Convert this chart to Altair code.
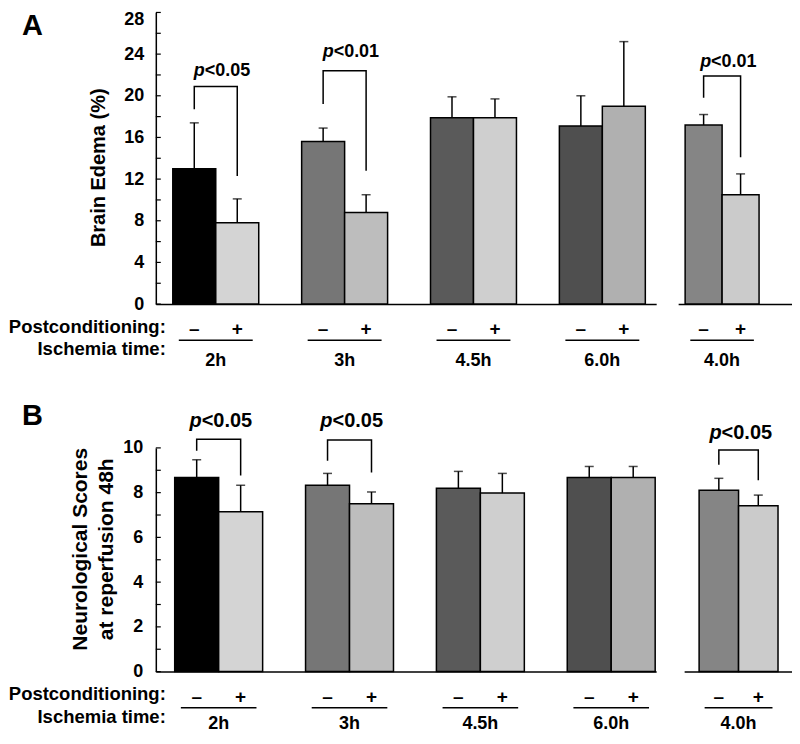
import altair as alt
import pandas as pd

FONT = "Liberation Sans"

# ---------------- data ----------------
groups_main = ["2h", "3h", "4.5h", "6.0h"]
groups_side = ["4.0h"]
groups_all = groups_main + groups_side
conds = ["–", "+"]

# Panel A: brain edema (%)
edema_minus = [13.0, 15.6, 17.9, 17.1, 17.2]
edema_minus_sd = [4.4, 1.3, 2.0, 2.9, 1.0]
edema_plus = [7.8, 8.8, 17.9, 19.0, 10.5]
edema_plus_sd = [2.3, 1.7, 1.8, 6.2, 2.0]

# Panel B: neurological scores
score_minus = [8.68, 8.33, 8.2, 8.68, 8.11]
score_minus_sd = [0.79, 0.53, 0.75, 0.49, 0.53]
score_plus = [7.15, 7.5, 7.98, 8.68, 7.41]
score_plus_sd = [1.18, 0.53, 0.88, 0.49, 0.48]

# significance brackets
edema_sig_groups = ["2h", "3h", "4.0h"]
edema_sig_text = ["<0.05", "<0.01", "<0.01"]
edema_br_top = [20.9, 22.4, 21.9]
edema_br_left = [18.7, 19.2, 19.8]
edema_br_right = [12.3, 12.8, 14.1]
edema_txt_y = [21.9, 23.7, 22.8]

score_sig_groups = ["2h", "3h", "4.0h"]
score_sig_text = ["<0.05", "<0.05", "<0.05"]
score_br_top = [10.39, 10.35, 9.91]
score_br_left = [9.87, 9.43, 9.25]
score_br_right = [8.77, 8.9, 8.55]
score_txt_y = [10.93, 10.93, 10.4]

row_labels = ["Postconditioning:", "Ischemia time:"]

# fill tones standing in for the hatch patterns
fill_keys = [f"{g} {c}" for g in groups_all for c in conds]
fill_colors = ["#000000", "#d4d4d4",
               "#767676", "#bdbdbd",
               "#5a5a5a", "#cfcfcf",
               "#4f4f4f", "#b0b0b0",
               "#858585", "#cbcbcb"]


def bar_table(minus, minus_sd, plus, plus_sd):
    rows = []
    for g, m, ms, p, ps in zip(groups_all, minus, minus_sd, plus, plus_sd):
        rows.append(dict(group=g, cond=conds[0], value=m, hi=m + ms, key=f"{g} {conds[0]}"))
        rows.append(dict(group=g, cond=conds[1], value=p, hi=p + ps, key=f"{g} {conds[1]}"))
    return pd.DataFrame(rows)


def bracket_table(gs, top, left, right):
    rows = []
    for g, t, l, r in zip(gs, top, left, right):
        rows += [dict(group=g, cond=conds[0], y=l, seq=0),
                 dict(group=g, cond=conds[0], y=t, seq=1),
                 dict(group=g, cond=conds[1], y=t, seq=2),
                 dict(group=g, cond=conds[1], y=r, seq=3)]
    return pd.DataFrame(rows)


def sig_table(gs, texts, ys):
    return pd.DataFrame(dict(group=gs, rest=texts, ty=ys, p=["p"] * len(gs)))


def build(groups_sub, bars, brk, sig, ymax, lab_step, tick_step, w, h,
          pin, pout, aln, main, ytitle=None, title_x=0, title_y=0,
          title_size=20, title_lh=26, label_pad=12, xlabel_pad=44, p_size=18,
          p_dx=-11, letter=None, letter_y=0, flush_top=False, row_dy=(29, 52)):
    b = bars[bars.group.isin(groups_sub)]
    k = brk[brk.group.isin(groups_sub)]
    s = sig[sig.group.isin(groups_sub)]
    gdf = pd.DataFrame(dict(group=groups_sub))

    xscale = alt.Scale(domain=groups_sub, paddingInner=pin, paddingOuter=pout, align=aln)
    xaxis = alt.Axis(title=None, labelAngle=0, ticks=False, tickSize=0, domainColor="black",
                     domainWidth=1.5, labelPadding=xlabel_pad, labelFontSize=18,
                     labelFontWeight="bold", labelColor="black", grid=False)
    oscale = alt.Scale(domain=conds, paddingInner=0, paddingOuter=0)
    yscale = alt.Scale(domain=[0, ymax], nice=False, zero=True)
    if main:
        ax = dict(values=list(range(0, ymax + 1, lab_step)), ticks=False, tickSize=0,
                  domainColor="black", domainWidth=1.5, grid=False, labelPadding=label_pad,
                  labelFontSize=18, labelFontWeight="bold", labelColor="black",
                  title=ytitle, titleFontSize=title_size, titleFontWeight="bold",
                  titleColor="black", titleX=title_x, titleY=title_y, titleAngle=270,
                  titleBaseline="bottom", titleAlign="center", titleLineHeight=title_lh)
        if flush_top:
            ax["labelBaseline"] = {"condition": {"test": f"datum.value == {ymax}", "value": "top"},
                                   "value": "middle"}
            ax["labelOffset"] = {"condition": {"test": f"datum.value == {ymax}", "value": -2},
                                 "value": 0}
        yaxis = alt.Axis(**ax)
    else:
        yaxis = None

    def X():
        return alt.X("group:N", scale=xscale, axis=xaxis, sort=groups_sub)

    def XO():
        return alt.XOffset("cond:N", scale=oscale, sort=conds)

    def Y(f):
        return alt.Y(f"{f}:Q", scale=yscale, axis=yaxis)

    layers = [
        alt.Chart(b).mark_bar(stroke="black", strokeWidth=1.5).encode(
            x=X(), xOffset=XO(), y=Y("value"),
            color=alt.Color("key:N", scale=alt.Scale(domain=fill_keys, range=fill_colors), legend=None)),
        alt.Chart(b).mark_rule(color="black", strokeWidth=1.5).encode(
            x=X(), xOffset=XO(), y=Y("value"), y2="hi:Q"),
        alt.Chart(b).mark_tick(orient="horizontal", size=9, thickness=1.5, color="black").encode(
            x=X(), xOffset=XO(), y=Y("hi")),
        alt.Chart(k).mark_line(color="black", strokeWidth=1.5).encode(
            x=X(), xOffset=XO(), y=Y("y"), detail="group:N", order="seq:O"),
        alt.Chart(s).mark_text(align="right", baseline="alphabetic", dx=p_dx, fontSize=p_size,
                               fontStyle="italic", fontWeight="bold", color="black").encode(
            x=X(), y=Y("ty"), text="p:N"),
        alt.Chart(s).mark_text(align="left", baseline="alphabetic", dx=p_dx, fontSize=p_size,
                               fontWeight="bold", color="black").encode(
            x=X(), y=Y("ty"), text="rest:N"),
        alt.Chart(b).mark_text(fontSize=19, fontWeight="bold", baseline="middle", color="black").encode(
            x=X(), xOffset=XO(), y=alt.value(h + 25), text="cond:N"),
        alt.Chart(gdf).mark_bar(color="black", width=alt.RelativeBandSize(0.86)).encode(
            x=X(), y=alt.value(h + 35.5), y2=alt.value(h + 37)),
    ]
    if main:
        tdf = pd.DataFrame(dict(t=list(range(0, ymax + 1, tick_step))))
        layers.append(alt.Chart(tdf).mark_rule(color="black", strokeWidth=1.2).encode(
            x=alt.value(0), x2=alt.value(5), y=Y("t")))
        layers.append(alt.Chart(alt.Data(values=[{"lab": row_labels[0]}])).mark_text(
            align="right", baseline="alphabetic", fontSize=18.5, fontWeight="bold", color="black").encode(
            x=alt.value(10), y=alt.value(h + row_dy[0]), text="lab:N"))
        layers.append(alt.Chart(alt.Data(values=[{"lab": row_labels[1]}])).mark_text(
            align="right", baseline="alphabetic", fontSize=18.5, fontWeight="bold", color="black").encode(
            x=alt.value(10), y=alt.value(h + row_dy[1]), text="lab:N"))
        layers.append(alt.Chart(alt.Data(values=[{"lab": letter}])).mark_text(
            align="left", baseline="alphabetic", fontSize=29, fontWeight="bold", color="black").encode(
            x=alt.value(-134), y=alt.value(letter_y), text="lab:N"))
    return alt.layer(*layers).properties(width=w, height=h)


edema_bars = bar_table(edema_minus, edema_minus_sd, edema_plus, edema_plus_sd)
edema_brk = bracket_table(edema_sig_groups, edema_br_top, edema_br_left, edema_br_right)
edema_sig = sig_table(edema_sig_groups, edema_sig_text, edema_txt_y)

score_bars = bar_table(score_minus, score_minus_sd, score_plus, score_plus_sd)
score_brk = bracket_table(score_sig_groups, score_br_top, score_br_left, score_br_right)
score_sig = sig_table(score_sig_groups, score_sig_text, score_txt_y)

HA, HB = 292, 224

A_main = build(groups_main, edema_bars, edema_brk, edema_sig, 28, 4, 2, 501, HA,
               0.333, 0.108, 0.61, True, ytitle="Brain Edema (%)", title_x=-47, title_y=155,
               title_size=20, label_pad=12, xlabel_pad=47, p_size=18, p_dx=-11,
               letter="A", letter_y=23, flush_top=True, row_dy=(29, 51))
A_side = build(groups_side, edema_bars, edema_brk, edema_sig, 28, 4, 2, 114, HA,
               0.0, 0.27, 0.175, False, xlabel_pad=47, p_size=18, p_dx=-11)

B_main = build(groups_main, score_bars, score_brk, score_sig, 10, 2, 1, 501, HB,
               0.328, 0.076, 0.95, True,
               ytitle=["Neurological Scores", "at reperfusion 48h"], title_x=-65, title_y=101,
               title_size=21, title_lh=26, label_pad=13, xlabel_pad=43, p_size=20, p_dx=-17,
               letter="B", letter_y=-23, row_dy=(28, 51))
B_side = build(groups_side, score_bars, score_brk, score_sig, 10, 2, 1, 108, HB,
               0.0, 0.1835, 0.517, False, xlabel_pad=43, p_size=20, p_dx=-17)

row_A = alt.hconcat(A_main, A_side, spacing=22).resolve_scale(x="independent", xOffset="independent", y="independent")
row_B = alt.hconcat(B_main, B_side, spacing=28).resolve_scale(x="independent", xOffset="independent", y="independent")

chart = (
    alt.vconcat(row_A, row_B, spacing=33)
    .resolve_scale(x="independent", xOffset="independent", y="independent")
    .properties(padding={"top": 2, "left": 0, "right": 0, "bottom": 0})
    .configure(font=FONT)
    .configure_view(stroke=None)
    .configure_axis(labelFont=FONT, titleFont=FONT)
)

chart.save("out.html", embed_options={"renderer": "svg", "actions": False})
